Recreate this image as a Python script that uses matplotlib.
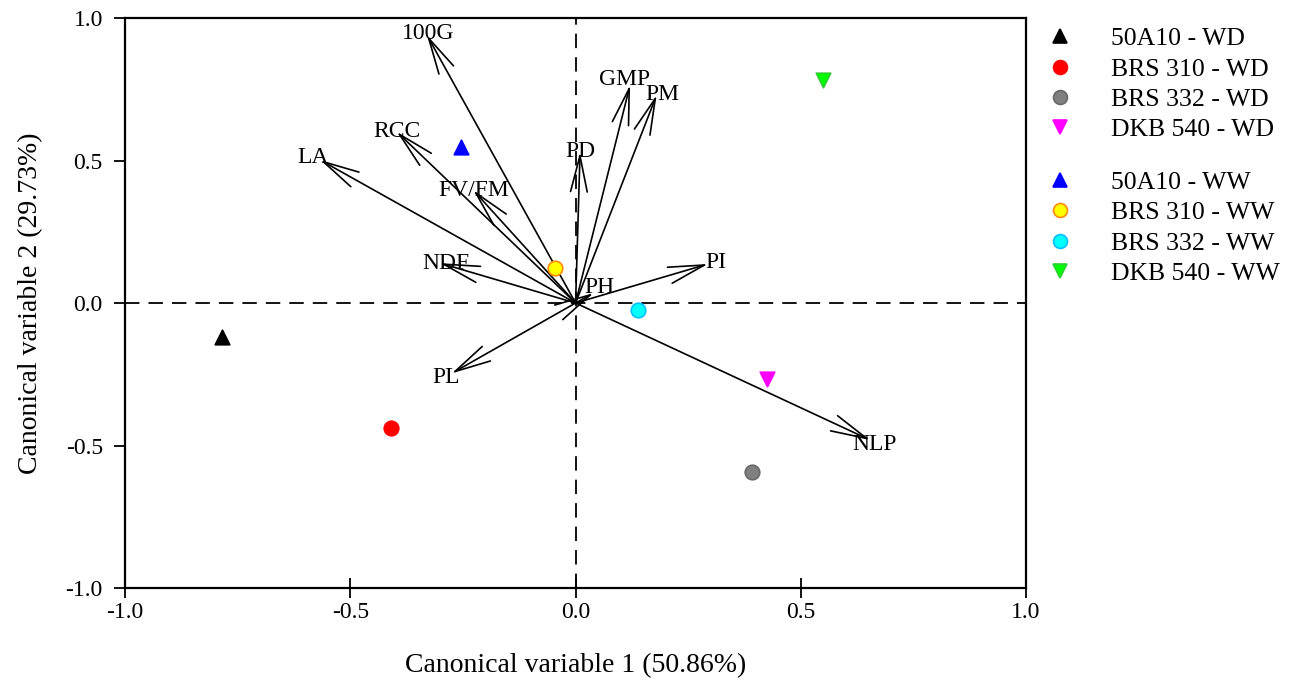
import matplotlib.pyplot as plt
from matplotlib.lines import Line2D

plt.rcParams['font.family'] = ['Liberation Serif', 'DejaVu Serif']

# genotype x treatment scores
groups = ['50A10 - WD', 'BRS 310 - WD', 'BRS 332 - WD', 'DKB 540 - WD',
          '50A10 - WW', 'BRS 310 - WW', 'BRS 332 - WW', 'DKB 540 - WW']
score_x = [-0.785, -0.41, 0.392, 0.425, -0.254, -0.046, 0.139, 0.549]
score_y = [-0.12, -0.44, -0.593, -0.267, 0.547, 0.123, -0.025, 0.782]
markers = ['^', 'o', 'o', 'v', '^', 'o', 'o', 'v']
faces = ['black', 'red', 'grey', 'magenta', 'blue', 'yellow', 'cyan', 'lime']
edges = ['black', 'red', 'dimgrey', 'magenta', 'blue', 'darkorange', 'deepskyblue', 'limegreen']

# variable loadings (arrow tips)
variables = ['100G', 'RCC', 'LA', 'FV/FM', 'NDF', 'PD', 'GMP', 'PM', 'PI', 'PH', 'PL', 'NLP']
load_x = [-0.330, -0.397, -0.567, -0.227, -0.301, 0.010, 0.121, 0.180, 0.294, 0.040, -0.275, 0.654]
load_y = [0.940, 0.601, 0.502, 0.396, 0.140, 0.530, 0.765, 0.730, 0.137, 0.035, -0.247, -0.481]

label_offset = {'LA': (-5, 2), 'PI': (6, 1), 'PH': (4, 4), 'GMP': (-4, 4), 'NLP': (3, -3),
                'PL': (-4, -3), 'NDF': (4, 0), 'PM': (4, 0), '100G': (1, 1)}

fig = plt.figure(figsize=(13, 6.85), dpi=100)
ax = fig.add_axes([0.0962, 0.1416, 0.6931, 0.8321])

ax.axhline(0, color='black', linestyle=(0, (8, 5)), linewidth=1.3, zorder=1)
ax.axvline(0, color='black', linestyle=(0, (8, 5)), linewidth=1.3, zorder=1)

for name, lx, ly in zip(variables, load_x, load_y):
    ax.annotate('', xy=(lx, ly), xytext=(0, 0),
                arrowprops=dict(arrowstyle='->,head_length=1.3,head_width=0.3',
                                mutation_scale=20, color='black', lw=1.2,
                                shrinkA=0, shrinkB=0), zorder=2)
    dx, dy = label_offset.get(name, (0, 0))
    ax.annotate(name, xy=(lx, ly), xytext=(dx, dy), textcoords='offset points',
                ha='center', va='center', fontsize=17, zorder=3)

for i in range(len(groups)):
    ax.scatter(score_x[i], score_y[i], marker=markers[i], s=110,
               facecolor=faces[i], edgecolor=edges[i], linewidth=1.2, zorder=4)

ax.set_xlim(-1, 1)
ax.set_ylim(-1, 1)
ax.set_xticks([-1.0, -0.5, 0.0, 0.5, 1.0])
ax.set_yticks([-1.0, -0.5, 0.0, 0.5, 1.0])
ax.set_xticklabels(['-1.0', '-0.5', '0.0', '0.5', '1.0'])
ax.set_yticklabels(['-1.0', '-0.5', '0.0', '0.5', '1.0'])
ax.tick_params(axis='x', direction='inout', length=14, width=1.3, labelsize=17, pad=3)
ax.tick_params(axis='y', direction='out', length=8, width=1.3, labelsize=17, pad=8)
for sp in ax.spines.values():
    sp.set_linewidth(1.6)
ax.set_xlabel('Canonical variable 1 (50.86%)', fontsize=20, labelpad=22)
ax.set_ylabel('Canonical variable 2 (29.73%)', fontsize=20, labelpad=16)

handles = [Line2D([], [], linestyle='none', marker=markers[i], markersize=10,
                  markerfacecolor=faces[i], markeredgecolor=edges[i], markeredgewidth=1.2)
           for i in range(len(groups))]
leg1 = fig.legend(handles[:4], groups[:4], loc='upper left', bbox_to_anchor=(0.793, 0.975),
                  frameon=False, fontsize=18.5, handletextpad=1.2, labelspacing=0.28,
                  borderaxespad=0, handlelength=1.5)
leg2 = fig.legend(handles[4:], groups[4:], loc='upper left', bbox_to_anchor=(0.793, 0.765),
                  frameon=False, fontsize=18.5, handletextpad=1.2, labelspacing=0.28,
                  borderaxespad=0, handlelength=1.5)

fig.savefig('out.png', dpi=100)
